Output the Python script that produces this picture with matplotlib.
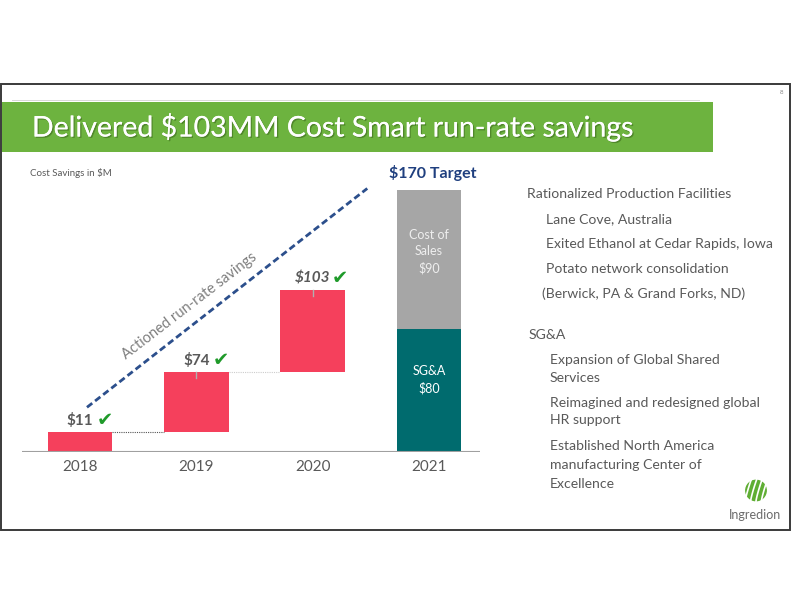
import matplotlib
matplotlib.use("Agg")
import matplotlib.pyplot as plt
import matplotlib.patches as mpatches
import matplotlib.patheffects as pe
import numpy as np

# ---------------- data ----------------
years = ["2018", "2019", "2020", "2021"]
waterfall_labels = ["$11", "$74", "$103"]          # labelled cumulative savings
waterfall_levels = [13, 52, 105]                    # drawn bar tops
target_segments = ["SG&A", "Cost of\nSales"]
target_values = [80, 90]
target_label = "$170 Target"
trend_start = (0.06, 29)
trend_end = (2.47, 171)

right_lines = [
    ("Rationalized Production Facilities", 527, 194),
    ("Lane Cove, Australia", 546, 219),
    ("Exited Ethanol at Cedar Rapids, Iowa", 546, 244),
    ("Potato network consolidation", 546, 269),
    ("(Berwick, PA & Grand Forks, ND)", 542, 294),
    ("SG&A", 529, 335),
    ("Expansion of Global Shared", 550, 360),
    ("Services", 550, 377.5),
    ("Reimagined and redesigned global", 550, 403),
    ("HR support", 550, 420.5),
    ("Established North America", 550, 446.5),
    ("manufacturing Center of", 550, 465),
    ("Excellence", 550, 483.5),
]

W, H = 792, 612
FONT = "Lato"
PINK = "#f5405c"
GRAY = "#a6a6a6"
TEAL = "#006b6e"
TXT = "#595959"
GREEN_CHECK = "#1f9a2a"
NAVY = "#1f3f7f"

fig = plt.figure(figsize=(W / 100, H / 100), dpi=100)
fig.patch.set_facecolor("white")


def fx(x):
    return x / W


def fy(y):
    return 1 - y / H


# slide frame
fig.add_artist(mpatches.Rectangle((fx(1), fy(530)), fx(790) - fx(1), fy(84) - fy(530),
                                  transform=fig.transFigure, fill=False,
                                  edgecolor="#3a3a3a", linewidth=1.4))
# title bar
fig.add_artist(mpatches.Rectangle((fx(12), fy(101)), fx(700) - fx(12), fy(99.5) - fy(101),
                                  transform=fig.transFigure, color="#d9d9d9", lw=0))
fig.add_artist(mpatches.Rectangle((fx(1.5), fy(152)), fx(713) - fx(1.5), fy(102) - fy(152),
                                  transform=fig.transFigure, color="#6db33f", lw=0))
fig.text(fx(32), fy(127), "Delivered $103MM Cost Smart run-rate savings",
         fontsize=20.5, color="white", family=FONT, va="center", ha="left",
         path_effects=[pe.withSimplePatchShadow(offset=(1, -1), shadow_rgbFace="#3d6b1f", alpha=0.6),
                       pe.Normal()])
fig.text(fx(781), fy(92), "8", fontsize=4.5, color="#888888", family=FONT, ha="center", va="center")

# ---------------- chart ----------------
ax_left, ax_right, ax_bot, ax_top = 22, 480, 452, 165
ax = fig.add_axes([fx(ax_left), fy(ax_bot), fx(ax_right) - fx(ax_left), fy(ax_top) - fy(ax_bot)])
px_per_cat = 116.3
px_per_unit = 262 / sum(target_values)
ax.set_xlim((ax_left - 80) / px_per_cat, (ax_right - 80) / px_per_cat)
ax.set_ylim(0, (ax_bot - ax_top) / px_per_unit)
ax.axis("off")
ax.axhline(0, color="#a0a0a0", lw=1.5, zorder=5)

x = np.arange(len(years))
bw = 0.555
bottoms = [0] + waterfall_levels[:-1]
heights = [t - b for t, b in zip(waterfall_levels, bottoms)]
ax.bar(x[:3], heights, bottom=bottoms, width=bw, color=PINK, zorder=3)

# connectors
for i in range(2):
    ax.plot([x[i] + bw / 2, x[i + 1] - bw / 2], [waterfall_levels[i]] * 2,
            ls=(0, (1, 1)), color="#555555" if i == 0 else "#cccccc", lw=0.8, zorder=2)
# small leader ticks
for i in (1, 2):
    ax.plot([x[i], x[i]], [waterfall_levels[i], waterfall_levels[i] - 4], color="#b0b0b0", lw=1, zorder=4)

# value labels + checks
check_offsets = [18, 18, 20]
for i, lab in enumerate(waterfall_labels):
    style = "italic" if i == 2 else "normal"
    ax.text(x[i], waterfall_levels[i] + 7.5, lab, ha="center", va="center", fontsize=11,
            fontweight="bold", color=TXT, family=FONT, style=style)
    ax.annotate("\u2714", xy=(x[i], waterfall_levels[i] + 7.5), xytext=(check_offsets[i], 0),
                textcoords="offset points", ha="center", va="center", fontsize=14,
                color=GREEN_CHECK, family="DejaVu Sans")

# 2021 stacked target
cum = 0
for seg, val, col in zip(target_segments, target_values, [TEAL, GRAY]):
    ax.bar(x[3], val, bottom=cum, width=bw, color=col, zorder=3)
    cum += val
ax.text(x[3], 47, f"{target_segments[0]}\n${target_values[0]}", ha="center", va="center",
        fontsize=9, color="white", family=FONT, linespacing=1.45, zorder=6)
ax.text(x[3], 130, f"{target_segments[1]}\n${target_values[1]}", ha="center", va="center",
        fontsize=9, color="#eeeeee", family=FONT, linespacing=1.45, zorder=6)
ax.text(x[3] + 0.03, sum(target_values) + 6, target_label, ha="center", va="bottom", fontsize=11.5,
        fontweight="bold", color=NAVY, family=FONT)

# trend line
ax.plot([trend_start[0], trend_end[0]], [trend_start[1], trend_end[1]], ls=(0, (2.4, 1.3)),
        color="#2c4f8c", lw=2.0, zorder=4)
ax.text(0.94, 95, "Actioned run-rate savings", rotation=37.5, ha="center", va="center",
        fontsize=10.5, color="#7f7f7f", family=FONT, rotation_mode="anchor")

# year labels
for xi, yr in zip(x, years):
    ax.text(xi, -9.5, yr, ha="center", va="center", fontsize=11, color=TXT, family=FONT)

fig.text(fx(30), fy(173), "Cost Savings in $M", fontsize=7, color=TXT, family=FONT, va="center")

# ---------------- right text ----------------
for txt, xx, yy in right_lines:
    fig.text(fx(xx), fy(yy), txt, fontsize=10.1, color=TXT, family=FONT, va="center", ha="left")

# logo
logo_ax = fig.add_axes([fx(744), fy(503), fx(24), fy(478) - fy(503)])
logo_ax.set_xlim(-1, 1)
logo_ax.set_ylim(-1, 1)
logo_ax.set_aspect("equal")
logo_ax.axis("off")
logo_ax.add_patch(mpatches.Circle((0, 0), 0.85, color="#5fae33"))
tt = np.linspace(0, 1, 50)
for k in range(4):
    xs = -0.9 + 0.45 * k + 0.5 * tt
    ys = -0.9 + 1.8 * tt ** 0.8
    logo_ax.plot(xs, ys, color="white", lw=1.2)
fig.text(fx(755), fy(515), "Ingredion", fontsize=9, color="#6b6b6b", family=FONT, ha="center", va="center")

fig.savefig("out.png", dpi=100)
